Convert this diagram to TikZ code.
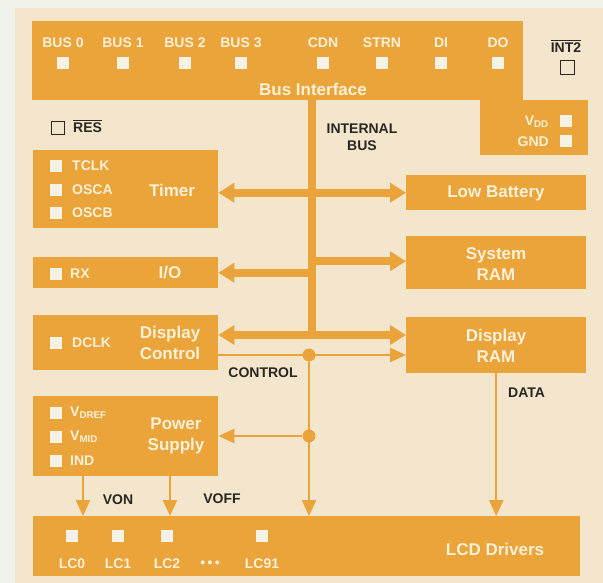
\documentclass[tikz,border=0pt]{standalone}
\usepackage{fontspec}
\setmainfont{Liberation Sans}
\usetikzlibrary{arrows.meta}
\definecolor{paper}{RGB}{241,242,234}
\definecolor{chipbeige}{RGB}{243,230,204}
\definecolor{chiporange}{RGB}{234,164,58}
\definecolor{pinwhite}{RGB}{247,242,230}
\definecolor{creamtext}{RGB}{251,240,216}
\definecolor{inkgray}{RGB}{42,38,34}
\newcommand\pinfont{\fontsize{14}{16}\selectfont}
\newcommand\blkfont{\fontsize{17}{21.5}\selectfont}
\newcommand\barred[1]{\leavevmode\vbox{\hrule height 1pt\kern2pt\hbox{#1}}}
\tikzset{bustip/.tip={Triangle[width=19pt,length=16pt]},
  sigtip/.tip={Triangle[width=14pt,length=16pt]}}
\begin{document}
\begin{tikzpicture}[x=1pt,y=-1pt,
  every node/.style={inner sep=0pt,font=\bfseries\pinfont},
  block/.style={fill=chiporange,anchor=north west},
  pin/.style={fill=pinwhite,minimum size=12pt},
  openpin/.style={draw=inkgray,line width=0.9pt,minimum size=14pt},
  cream/.style={text=creamtext},
  ink/.style={text=inkgray},
  title/.style={text=creamtext,font=\bfseries\blkfont,align=center},
  bus/.style={draw=chiporange,line width=8pt},
  sig/.style={draw=chiporange,line width=2.5pt},
  jdot/.style={circle,fill=chiporange,minimum size=13pt}]
\useasboundingbox (0,0) rectangle (603,583);
\fill[paper] (0,0) rectangle (603,583);
\fill[chipbeige] (15,8) rectangle (603,583);
% blocks
\node[block,minimum width=491,minimum height=79] (busif) at (32,21) {};
\node[block,minimum width=108,minimum height=55] (supply) at (480,100) {};
\node[block,minimum width=185,minimum height=78] (timer) at (33,150) {};
\node[block,minimum width=185,minimum height=31] (io) at (33,257) {};
\node[block,minimum width=185,minimum height=55] (dispctl) at (33,315) {};
\node[block,minimum width=185,minimum height=80] (power) at (33,396) {};
\node[block,minimum width=547,minimum height=60] (lcd) at (33,516) {};
\node[block,minimum width=180,minimum height=35] (lowbat) at (406,175) {};
\node[block,minimum width=180,minimum height=53] (sysram) at (406,236) {};
\node[block,minimum width=180,minimum height=56] (disram) at (406,317) {};
% bus interface pins
\foreach \x/\name in {63/BUS 0,123/BUS 1,185/BUS 2,241/BUS 3,323/CDN,382/STRN,441/DI,498/DO}{
  \node[cream] (buslbl\x) at (\x,43) {\name};
  \node[pin] (buspin\x) at (\x,63) {};
}
\node[title] (busiflbl) at (313,89) {Bus Interface};
\node[ink] (intlbl) at (566,46) {\barred{INT2}};
\node[openpin] (intpin) at (567,67) {};
\node[cream,anchor=east] (vddlbl) at (549,122) {V\textsubscript{DD}};
\node[pin] (vddpin) at (566,121) {};
\node[cream,anchor=east] (gndlbl) at (549,142) {GND};
\node[pin] (gndpin) at (566,141) {};
\node[openpin,minimum size=13pt] (respin) at (58,128) {};
\node[ink,anchor=west] (reslbl) at (73,126) {\barred{RES}};
\node[ink,align=center] (buslbl) at (362,137) {INTERNAL\\[1pt]BUS};
% left blocks
\node[pin] (tclkpin) at (56,166) {};
\node[cream,anchor=west] (tclklbl) at (72,166) {TCLK};
\node[pin] (oscapin) at (56,190) {};
\node[cream,anchor=west] (oscalbl) at (72,190) {OSCA};
\node[pin] (oscbpin) at (56,213) {};
\node[cream,anchor=west] (oscblbl) at (72,213) {OSCB};
\node[title] (timerlbl) at (172,190) {Timer};
\node[pin] (rxpin) at (56,274) {};
\node[cream,anchor=west] (rxlbl) at (70,274) {RX};
\node[title] (iolbl) at (170,273) {I/O};
\node[pin] (dclkpin) at (56,343) {};
\node[cream,anchor=west] (dclklbl) at (72,343) {DCLK};
\node[title] (dispctllbl) at (170,343) {Display\\Control};
\node[pin] (vdrefpin) at (56,413) {};
\node[cream,anchor=west] (vdreflbl) at (70,413) {V\textsubscript{DREF}};
\node[pin] (vmidpin) at (56,437) {};
\node[cream,anchor=west] (vmidlbl) at (70,437) {V\textsubscript{MID}};
\node[pin] (indpin) at (56,461) {};
\node[cream,anchor=west] (indlbl) at (70,461) {IND};
\node[title] (powerlbl) at (176,436) {Power\\Supply};
% right blocks
\node[title] (lowbatlbl) at (496,193) {Low Battery};
\node[title] (sysramlbl) at (496,264) {System\\RAM};
\node[title] (disramlbl) at (496,346) {Display\\RAM};
% lcd drivers
\foreach \x/\name in {72/LC0,118/LC1,167/LC2,262/LC91}{
  \node[pin] (lcpin\x) at (\x,536) {};
  \node[cream] (lclbl\x) at (\x,564) {\name};
}
\node[cream] (lcdots) at (210,564) {\textbullet\,\textbullet\,\textbullet};
\node[title] (lcdlbl) at (495,549) {LCD Drivers};
% internal bus
\coordinate (bustop) at (312,100);
\coordinate (busbot) at (312,335);
\draw[bus] (bustop) -- (busbot);
\draw[bus,bustip-bustip] (timer.east |- lowbat.west) -- (lowbat.west);
\draw[bus,-bustip] ([yshift=1.5pt]sysram.west -| bustop) -- ([yshift=1.5pt]sysram.west);
\draw[bus,-bustip] (io.east -| bustop) -- (io.east);
\draw[bus,bustip-bustip] (dispctl.east |- busbot) -- (disram.west |- busbot);
% control and data lines
\node[jdot] (ctldot) at (309,355) {};
\node[jdot] (pwrdot) at (309,436) {};
\draw[sig,-sigtip] (dispctl.east |- ctldot) -- (disram.west |- ctldot);
\draw[sig,-sigtip] (ctldot) -- (ctldot |- lcd.north);
\draw[sig,-sigtip] (pwrdot) -- (power.east |- pwrdot);
\draw[sig,-sigtip] (disram.south) -- (disram.south |- lcd.north);
\coordinate (von) at (83,476);
\coordinate (voff) at (170,476);
\draw[sig,-sigtip] (von) -- (von |- lcd.north);
\draw[sig,-sigtip] (voff) -- (voff |- lcd.north);
\node[ink] (ctllbl) at (263,373) {CONTROL};
\node[ink,anchor=west] (datalbl) at (508,393) {DATA};
\node[ink] (vonlbl) at (118,500) {VON};
\node[ink] (vofflbl) at (222,499) {VOFF};
\end{tikzpicture}
\end{document}
